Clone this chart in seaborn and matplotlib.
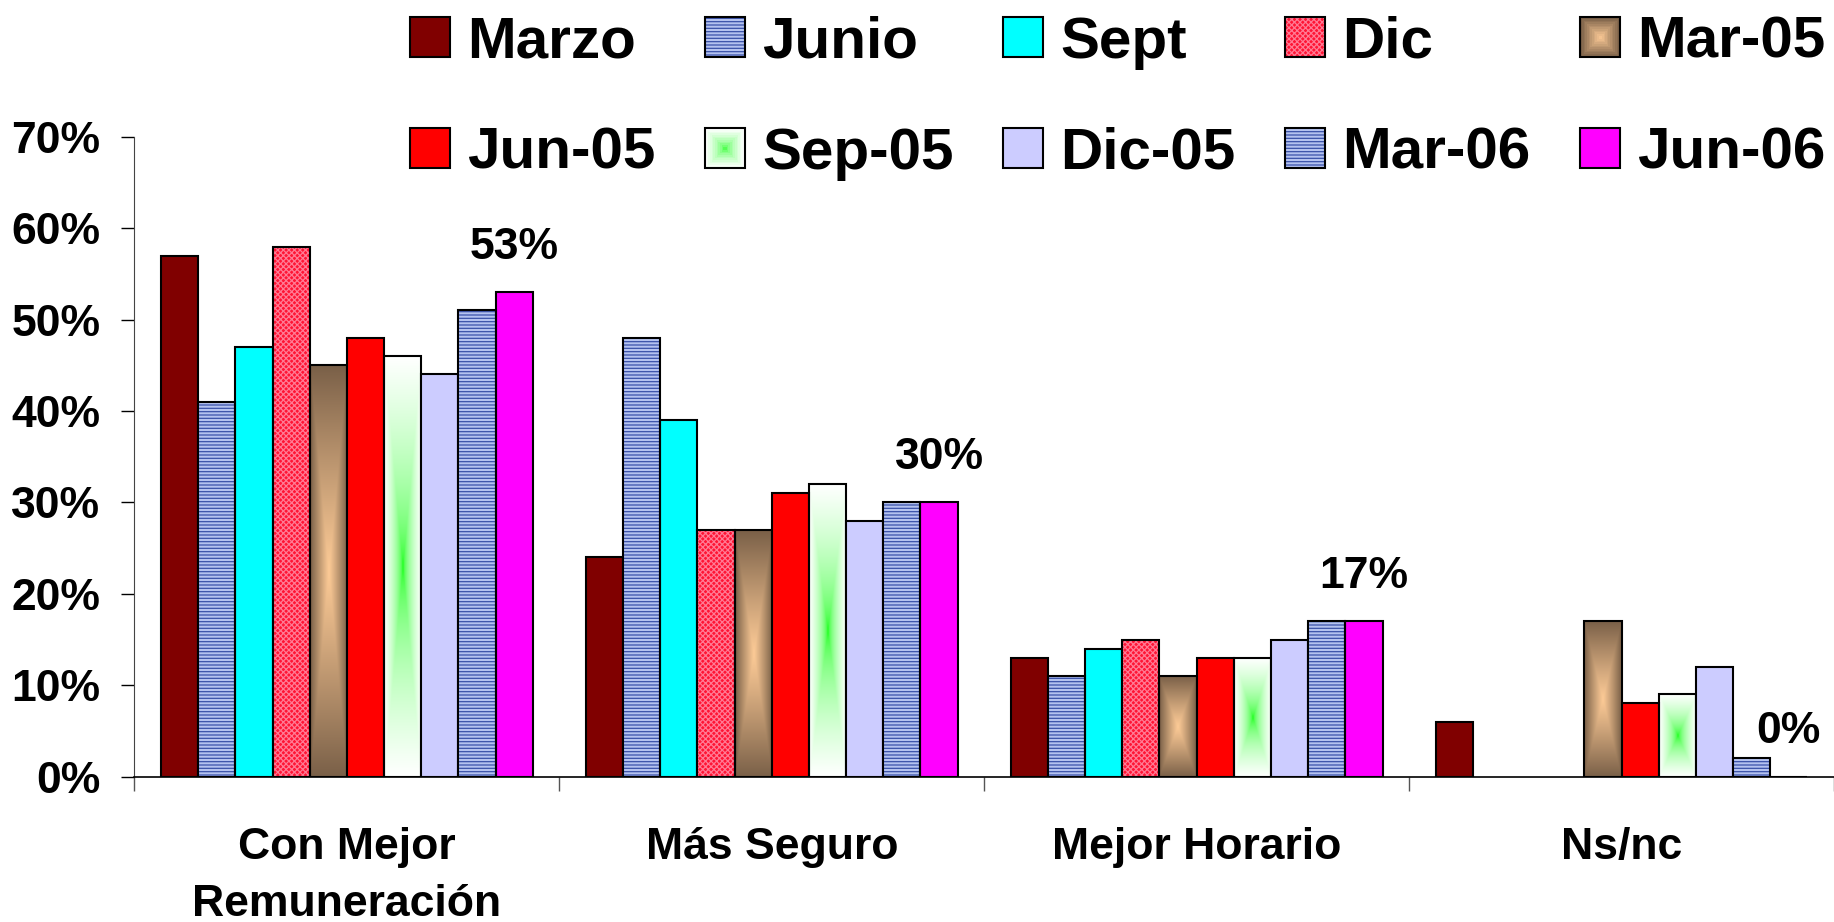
import matplotlib.pyplot as plt
import numpy as np
import pandas as pd
import seaborn as sns
from matplotlib.colors import to_rgb
from matplotlib.legend_handler import HandlerBase
from matplotlib.patches import Patch, Rectangle
from matplotlib.ticker import FixedLocator, MultipleLocator, PercentFormatter

# Data
categories = ["Con Mejor\nRemuneración", "Más Seguro", "Mejor Horario", "Ns/nc"]
periods = ["Marzo", "Junio", "Sept", "Dic", "Mar-05", "Jun-05", "Sep-05", "Dic-05", "Mar-06", "Jun-06"]
remuneracion = [57, 41, 47, 58, 45, 48, 46, 44, 51, 53]
seguro = [24, 48, 39, 27, 27, 31, 32, 28, 30, 30]
horario = [13, 11, 14, 15, 11, 13, 13, 15, 17, 17]
nsnc = [6, np.nan, np.nan, np.nan, 17, 8, 9, 12, 2, 0]
labelled_period = "Jun-06"

# Fill styles per period
base_colors = ["#800000", "#8C9EDC", "#00FFFF", "#FF3355", "#C09870",
               "#FF0000", "#C8FFC8", "#CCCCFF", "#8C9EDC", "#FF00FF"]
stripes = {"Junio": ("#B4C2F0", "#3A52AA", "-----"),
           "Mar-06": ("#B4C2F0", "#3A52AA", "-----"),
           "Dic": ("#FF1434", "#FF7A94", "xxxxxx")}
gradients = {"Mar-05": ("#FCCA96", "#7A6048", 1.1),
             "Sep-05": ("#00FF00", "#FFFFFF", 0.45)}

df = pd.DataFrame({
    "categoria": np.repeat(categories, len(periods)),
    "periodo": periods * len(categories),
    "valor": remuneracion + seguro + horario + nsnc,
}).dropna()

sns.set_style("white")
plt.rcParams["font.family"] = ["Liberation Sans", "DejaVu Sans"]
plt.rcParams["font.weight"] = "bold"
plt.rcParams["hatch.linewidth"] = 0.9
for key in ["text.color", "axes.labelcolor", "xtick.color", "ytick.color"]:
    plt.rcParams[key] = "black"


def gradient_image(center, edge, power, ny=160, nx=40):
    u = np.abs(np.linspace(-1, 1, nx))
    v = np.abs(np.linspace(-1, 1, ny))
    s = np.maximum(u[None, :], v[:, None]) ** power
    return (1 - s)[..., None] * np.array(to_rgb(center)) + s[..., None] * np.array(to_rgb(edge))


class GradientHandler(HandlerBase):
    def __init__(self, center, edge, power, steps=12):
        super().__init__()
        self.center, self.edge, self.power, self.steps = center, edge, power, steps

    def create_artists(self, legend, orig_handle, xdescent, ydescent, width, height, fontsize, trans):
        c0, c1 = np.array(to_rgb(self.center)), np.array(to_rgb(self.edge))
        arts = []
        for i in range(self.steps):
            f = i / self.steps
            s = (1 - f) ** self.power
            dx, dy = width * f / 2, height * f / 2
            arts.append(Rectangle((-xdescent + dx, -ydescent + dy), width - 2 * dx, height - 2 * dy,
                                  facecolor=(1 - s) * c0 + s * c1, lw=0, transform=trans))
        arts.append(Rectangle((-xdescent, -ydescent), width, height, fill=False,
                              edgecolor="black", lw=1.5, transform=trans))
        return arts


fig, ax = plt.subplots(figsize=(18.34, 9.22), dpi=100)
fig.subplots_adjust(left=0.0733, right=1.0, bottom=0.1577, top=0.8516)

sns.barplot(data=df, x="categoria", y="valor", hue="periodo", order=categories,
            hue_order=periods, palette=base_colors, saturation=1, width=0.875,
            edgecolor="black", linewidth=1.5, legend=False, ax=ax)

for period, container in zip(periods, ax.containers):
    for p in container.patches:
        if period in stripes:
            face, line, hatch = stripes[period]
            p.set_facecolor(face)
            p.set_edgecolor(line)
            p.set_hatch(hatch)
            p.set_linewidth(0)
            ax.add_patch(Rectangle(p.get_xy(), p.get_width(), p.get_height(), fill=False,
                                   edgecolor="black", lw=1.5, zorder=p.get_zorder() + 0.1))
        elif period in gradients:
            center, edge, power = gradients[period]
            x, y, w, h = p.get_x(), p.get_y(), p.get_width(), p.get_height()
            p.set_facecolor("none")
            im = ax.imshow(gradient_image(center, edge, power), extent=(x, x + w, y, y + h),
                           origin="lower", aspect="auto", interpolation="bilinear",
                           zorder=p.get_zorder() - 0.05)
            im.set_clip_path(p)
    if period == labelled_period:
        for p in container.patches:
            ax.annotate(f"{p.get_height():.0f}%", (p.get_x() + p.get_width() / 2, p.get_height()),
                        xytext=(0, 24), textcoords="offset points", ha="center",
                        va="baseline", fontsize=32, fontweight="bold")

ax.set_xlim(-0.5, len(categories) - 0.5)
ax.set_ylim(0, 70)
ax.set_xlabel("")
ax.set_ylabel("")
ax.yaxis.set_major_locator(MultipleLocator(10))
ax.yaxis.set_major_formatter(PercentFormatter(decimals=0))
ax.xaxis.set_minor_locator(FixedLocator(np.arange(-0.5, len(categories), 1)))
ax.tick_params(axis="y", length=9.5, width=1, pad=15, labelsize=32, left=True)
ax.tick_params(axis="x", which="major", length=0, pad=36, labelsize=32)
ax.tick_params(axis="x", which="minor", length=10, width=1, color="#555555", bottom=True)
for lab in ax.get_xticklabels():
    lab.set_linespacing(1.5)
sns.despine(ax=ax)
ax.spines["left"].set_color("#444444")
ax.spines["bottom"].set_color("black")
ax.spines["bottom"].set_linewidth(1.2)

# Legend, row-major order in 2 rows x 5 columns
handles, hmap = [], {}
for period, color in zip(periods, base_colors):
    if period in stripes:
        face, line, hatch = stripes[period]
        h = (Patch(facecolor=face, edgecolor=line, hatch=hatch, lw=0),
             Patch(fill=False, edgecolor="black", lw=1.5))
    elif period in gradients:
        h = Patch(facecolor=color)
        hmap[h] = GradientHandler(*gradients[period])
    else:
        h = Patch(facecolor=color, edgecolor="black", lw=1.5)
    handles.append(h)
order = [i + r * 5 for i in range(5) for r in range(2)]
fig.legend([handles[i] for i in order], [periods[i] for i in order], handler_map=hmap,
           ncol=5, loc="upper right", bbox_to_anchor=(0.9956, 0.983), frameon=False,
           fontsize=42, handlelength=0.68, handleheight=0.68, handletextpad=0.3,
           columnspacing=0.85, labelspacing=0.98, borderpad=0, borderaxespad=0)

fig.savefig("out.png", dpi=100)
